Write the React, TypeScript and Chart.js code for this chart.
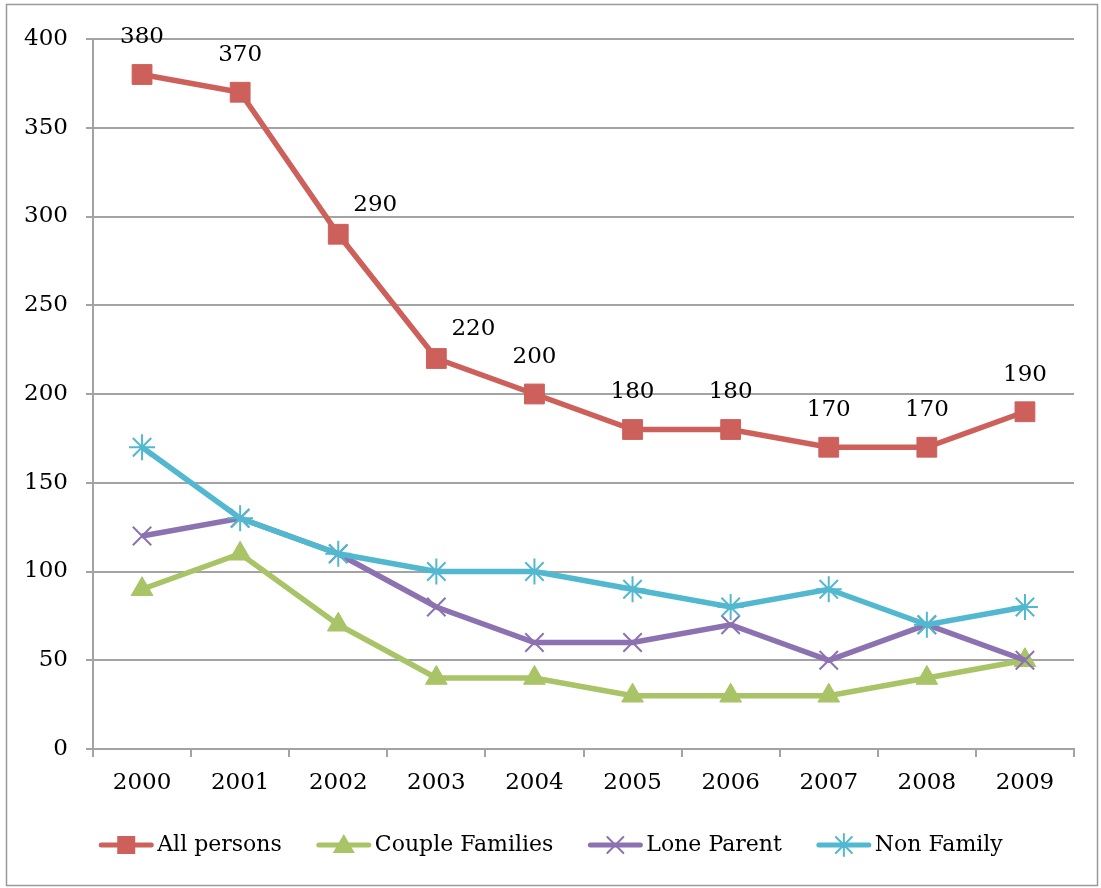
import React, { useEffect, useRef } from "react";
import { Chart, registerables } from "chart.js";

Chart.register(...registerables);

const years = ["2000", "2001", "2002", "2003", "2004", "2005", "2006", "2007", "2008", "2009"];
const allPersons = [380, 370, 290, 220, 200, 180, 180, 170, 170, 190];
const coupleFamilies = [90, 110, 70, 40, 40, 30, 30, 30, 40, 50];
const loneParent = [120, 130, 110, 80, 60, 60, 70, 50, 70, 50];
const nonFamily = [170, 130, 110, 100, 100, 90, 80, 90, 70, 80];
const seriesNames = ["All persons", "Couple Families", "Lone Parent", "Non Family"];
const yMin = 0;
const yMax = 400;
const yStep = 50;

const FONT_FAMILY = '"DejaVu Serif", serif';
const FONT_SIZE = 23;
const LEGEND_FONT_SIZE = 22;
const COLORS = ["#CD605B", "#A8C466", "#8C72B0", "#52B8D0"];
const STYLES = ["rect", "triangle", "crossRot", "star"];
const GRID = "#A3A3A3";

function drawMarker(ctx: CanvasRenderingContext2D, style: string, x: number, y: number, color: string) {
  ctx.save();
  ctx.fillStyle = color;
  ctx.strokeStyle = color;
  ctx.lineWidth = 2;
  ctx.beginPath();
  if (style === "rect") {
    ctx.rect(x - 9, y - 9, 18, 18);
    ctx.fill();
  } else if (style === "triangle") {
    ctx.moveTo(x, y - 11);
    ctx.lineTo(x + 11, y + 8);
    ctx.lineTo(x - 11, y + 8);
    ctx.closePath();
    ctx.fill();
  } else if (style === "crossRot") {
    ctx.moveTo(x - 8, y - 8);
    ctx.lineTo(x + 8, y + 8);
    ctx.moveTo(x + 8, y - 8);
    ctx.lineTo(x - 8, y + 8);
    ctx.stroke();
  } else {
    ctx.moveTo(x, y - 11);
    ctx.lineTo(x, y + 11);
    ctx.moveTo(x - 8, y - 8);
    ctx.lineTo(x + 8, y + 8);
    ctx.moveTo(x + 8, y - 8);
    ctx.lineTo(x - 8, y + 8);
    ctx.stroke();
  }
  ctx.restore();
}

const borderPlugin = {
  id: "outerBorder",
  beforeDraw(chart: any) {
    const ctx = chart.ctx;
    ctx.save();
    ctx.fillStyle = "#fff";
    ctx.fillRect(0, 0, chart.width, chart.height);
    ctx.strokeStyle = "#9A9A9A";
    ctx.lineWidth = 1.5;
    ctx.strokeRect(6.5, 4.5, 1091, 881);
    ctx.restore();
  },
};

const valueLabelPlugin = {
  id: "valueLabels",
  afterDatasetsDraw(chart: any) {
    const ctx = chart.ctx;
    const meta = chart.getDatasetMeta(0);
    const data = chart.data.datasets[0].data as number[];
    ctx.save();
    ctx.font = `${FONT_SIZE}px ${FONT_FAMILY}`;
    ctx.fillStyle = "#000";
    ctx.textAlign = "center";
    ctx.textBaseline = "middle";
    meta.data.forEach((pt: any, i: number) => {
      const prev = i > 0 ? data[i - 1] : data[i];
      const steep = prev - data[i] > 50;
      const x = pt.x + (steep ? 37 : 0);
      const y = pt.y - (steep ? 29 : 37);
      ctx.fillText(String(data[i]), x, y);
    });
    ctx.restore();
  },
};

const legendPlugin = {
  id: "lineLegend",
  afterDraw(chart: any) {
    const ctx = chart.ctx;
    ctx.save();
    ctx.font = `${LEGEND_FONT_SIZE}px ${FONT_FAMILY}`;
    const lineW = 56;
    const gapText = 3;
    const gapItem = 34;
    const widths = seriesNames.map((n) => ctx.measureText(n).width);
    const total = widths.reduce((a, w) => a + lineW + gapText + w, 0) + gapItem * (seriesNames.length - 1);
    let x = chart.width / 2 - total / 2;
    const y = 845;
    seriesNames.forEach((name, i) => {
      ctx.strokeStyle = COLORS[i];
      ctx.lineWidth = 5;
      ctx.lineCap = "round";
      ctx.beginPath();
      ctx.moveTo(x + 3, y);
      ctx.lineTo(x + lineW - 3, y);
      ctx.stroke();
      drawMarker(ctx, STYLES[i], x + lineW / 2, y, COLORS[i]);
      ctx.fillStyle = "#000";
      ctx.textAlign = "left";
      ctx.textBaseline = "middle";
      ctx.fillText(name, x + lineW + gapText, y);
      x += lineW + gapText + widths[i] + gapItem;
    });
    ctx.restore();
  },
};

export default function App() {
  const ref = useRef<HTMLCanvasElement | null>(null);
  useEffect(() => {
    if (!ref.current) return;
    const seriesData = [allPersons, coupleFamilies, loneParent, nonFamily];
    const radii = [14, 12.5, 13, 13];
    const chart = new Chart(ref.current, {
      type: "line",
      data: {
        labels: years,
        datasets: seriesData.map((d, i) => ({
          label: seriesNames[i],
          data: d,
          borderColor: COLORS[i],
          backgroundColor: COLORS[i],
          borderWidth: 5.5,
          pointStyle: STYLES[i] as any,
          pointRadius: radii[i],
          pointBorderWidth: STYLES[i] === "crossRot" || STYLES[i] === "star" ? 2 : 1,
          pointBackgroundColor: COLORS[i],
          pointBorderColor: COLORS[i],
          tension: 0,
          order: 3 - i,
        })),
      },
      options: {
        responsive: false,
        animation: false,
        layout: { padding: { left: 0, right: 27, top: 39, bottom: 79 } },
        plugins: {
          legend: { display: false },
          tooltip: { enabled: false },
          title: { display: false },
        },
        scales: {
          x: {
            offset: true,
            grid: {
              offset: true,
              display: true,
              drawOnChartArea: false,
              drawTicks: true,
              tickLength: 8,
              color: GRID,
              lineWidth: 2,
            },
            border: { display: true, color: GRID, width: 2 },
            ticks: {
              color: "#000",
              font: { family: FONT_FAMILY, size: FONT_SIZE },
              padding: 12,
              maxRotation: 0,
              autoSkip: false,
            },
            afterFit(scale: any) {
              scale.height = 60;
            },
          },
          y: {
            min: yMin,
            max: yMax,
            ticks: {
              stepSize: yStep,
              color: "#000",
              font: { family: FONT_FAMILY, size: FONT_SIZE },
              padding: 18,
            },
            grid: {
              color: GRID,
              lineWidth: 2,
              tickLength: 7,
            },
            border: { display: true, color: GRID, width: 2 },
            afterFit(scale: any) {
              scale.width = 93;
            },
          },
        },
      },
      plugins: [borderPlugin, valueLabelPlugin, legendPlugin],
    });
    return () => chart.destroy();
  }, []);
  return (
    <div style={{ position: "absolute", left: 0, top: 0, width: 1101, height: 888 }}>
      <canvas ref={ref} width={1101} height={888} style={{ display: "block" }} />
    </div>
  );
}
